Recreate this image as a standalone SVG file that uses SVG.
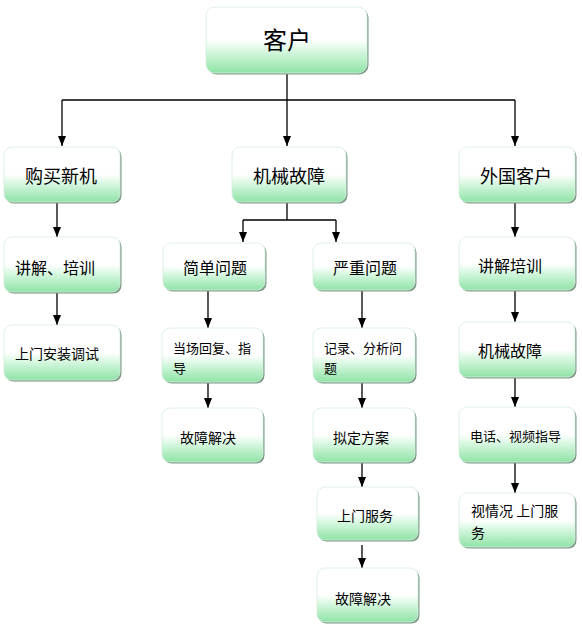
<svg xmlns="http://www.w3.org/2000/svg" width="582" height="627" viewBox="0 0 582 627">
<defs>
<linearGradient id="g" x1="0" y1="0" x2="0" y2="1">
<stop offset="0" stop-color="#ffffff"/>
<stop offset="0.5" stop-color="#ffffff"/>
<stop offset="0.68" stop-color="#d4f7de"/>
<stop offset="1" stop-color="#8fe3a6"/>
</linearGradient>
<marker id="ah" viewBox="0 0 10 8" refX="10" refY="4" markerWidth="10" markerHeight="8" markerUnits="userSpaceOnUse" orient="auto">
<path d="M0,0 L10,4 L0,8 z" fill="#000"/>
</marker>
</defs>
<style>
.sh{fill:#7c9c86;}
.box{fill:url(#g);stroke:#d6ece0;stroke-width:0.8;}
text{font-family:"Noto Sans CJK SC","Noto Sans",sans-serif;fill:#000;dominant-baseline:central;}
.t24{font-size:24px;}
.t18{font-size:18px;}
.t16{font-size:16px;}
.t14{font-size:14px;}
.t13{font-size:13px;}
.c line,.c path{stroke:#000;stroke-width:1.3;fill:none;}
.a{marker-end:url(#ah);}
</style>
<rect width="582" height="627" fill="#fff"/>
<g class="c" id="connectors">
<path class="a" d="M287,73 V146"/>
<path d="M62,100 H515"/>
<path class="a" d="M62,100 V146"/>
<path class="a" d="M515,100 V146"/>
<path d="M287,203 V220 M243,220 H336"/>
<path class="a" d="M243,220 V242"/>
<path class="a" d="M336,220 V242"/>
<path class="a" d="M57,202 V237"/>
<path class="a" d="M57,292 V325"/>
<path class="a" d="M208,290 V328"/>
<path class="a" d="M362,290 V328"/>
<path class="a" d="M208,382 V408"/>
<path class="a" d="M362,382 V408"/>
<path class="a" d="M362,462 V487"/>
<path class="a" d="M362,545 V568"/>
<path class="a" d="M515,202 V237"/>
<path class="a" d="M515,290 V322"/>
<path class="a" d="M515,377 V407"/>
<path class="a" d="M515,462 V493"/>
</g>
<g id="n-kehu"><rect class="sh" x="207.5" y="8.5" width="161" height="66" rx="9"/><rect class="box" x="206" y="7" width="161" height="66" rx="9"/><text class="t24" x="263" y="38">客户</text></g>
<g id="n-goumai"><rect class="sh" x="5.5" y="148.5" width="116" height="55" rx="8"/><rect class="box" x="4" y="147" width="116" height="55" rx="8"/><text class="t18" x="25" y="175">购买新机</text></g>
<g id="n-jixie"><rect class="sh" x="233.5" y="148.5" width="114" height="55" rx="8"/><rect class="box" x="232" y="147" width="114" height="55" rx="8"/><text class="t18" x="253" y="175">机械故障</text></g>
<g id="n-waiguo"><rect class="sh" x="460.5" y="148.5" width="116" height="55" rx="8"/><rect class="box" x="459" y="147" width="116" height="55" rx="8"/><text class="t18" x="480" y="175">外国客户</text></g>
<g id="n-jiangjie1"><rect class="sh" x="5.5" y="238.5" width="116" height="55" rx="8"/><rect class="box" x="4" y="237" width="116" height="55" rx="8"/><text class="t16" x="15" y="267">讲解、培训</text></g>
<g id="n-jiandan"><rect class="sh" x="164.5" y="244.5" width="102" height="47" rx="8"/><rect class="box" x="163" y="243" width="102" height="47" rx="8"/><text class="t16" x="183" y="267">简单问题</text></g>
<g id="n-yanzhong"><rect class="sh" x="314.5" y="244.5" width="102" height="47" rx="8"/><rect class="box" x="313" y="243" width="102" height="47" rx="8"/><text class="t16" x="333" y="267">严重问题</text></g>
<g id="n-jiangjie2"><rect class="sh" x="460.5" y="238.5" width="116" height="53" rx="8"/><rect class="box" x="459" y="237" width="116" height="53" rx="8"/><text class="t16" x="478" y="265">讲解培训</text></g>
<g id="n-shangmen1"><rect class="sh" x="5.5" y="326.5" width="116" height="55" rx="8"/><rect class="box" x="4" y="325" width="116" height="55" rx="8"/><text class="t14" x="15" y="353">上门安装调试</text></g>
<g id="n-dangchang"><rect class="sh" x="163.5" y="329.5" width="101" height="54" rx="8"/><rect class="box" x="162" y="328" width="101" height="54" rx="8"/><text class="t13" x="173" y="347">当场回复、指</text><text class="t13" x="173" y="367">导</text></g>
<g id="n-jilu"><rect class="sh" x="314.5" y="329.5" width="102" height="54" rx="8"/><rect class="box" x="313" y="328" width="102" height="54" rx="8"/><text class="t13" x="324" y="347">记录、分析问</text><text class="t13" x="324" y="367">题</text></g>
<g id="n-jixie2"><rect class="sh" x="460.5" y="323.5" width="116" height="55" rx="8"/><rect class="box" x="459" y="322" width="116" height="55" rx="8"/><text class="t16" x="478" y="350">机械故障</text></g>
<g id="n-guzhang1"><rect class="sh" x="163.5" y="409.5" width="101" height="54" rx="8"/><rect class="box" x="162" y="408" width="101" height="54" rx="8"/><text class="t14" x="180" y="437">故障解决</text></g>
<g id="n-niding"><rect class="sh" x="314.5" y="409.5" width="102" height="54" rx="8"/><rect class="box" x="313" y="408" width="102" height="54" rx="8"/><text class="t14" x="333" y="437">拟定方案</text></g>
<g id="n-dianhua"><rect class="sh" x="460.5" y="408.5" width="116" height="55" rx="8"/><rect class="box" x="459" y="407" width="116" height="55" rx="8"/><text class="t13" x="470" y="435">电话、视频指导</text></g>
<g id="n-shangmen2"><rect class="sh" x="318.5" y="488.5" width="101" height="53" rx="8"/><rect class="box" x="317" y="487" width="101" height="53" rx="8"/><text class="t14" x="337" y="515">上门服务</text></g>
<g id="n-shiqing"><rect class="sh" x="460.5" y="494.5" width="116" height="54" rx="8"/><rect class="box" x="459" y="493" width="116" height="54" rx="8"/><text class="t14" x="471" y="510">视情况 上门服</text><text class="t14" x="471" y="532">务</text></g>
<g id="n-guzhang2"><rect class="sh" x="318.5" y="569.5" width="101" height="54" rx="8"/><rect class="box" x="317" y="568" width="101" height="54" rx="8"/><text class="t14" x="335" y="598">故障解决</text></g>
</svg>
